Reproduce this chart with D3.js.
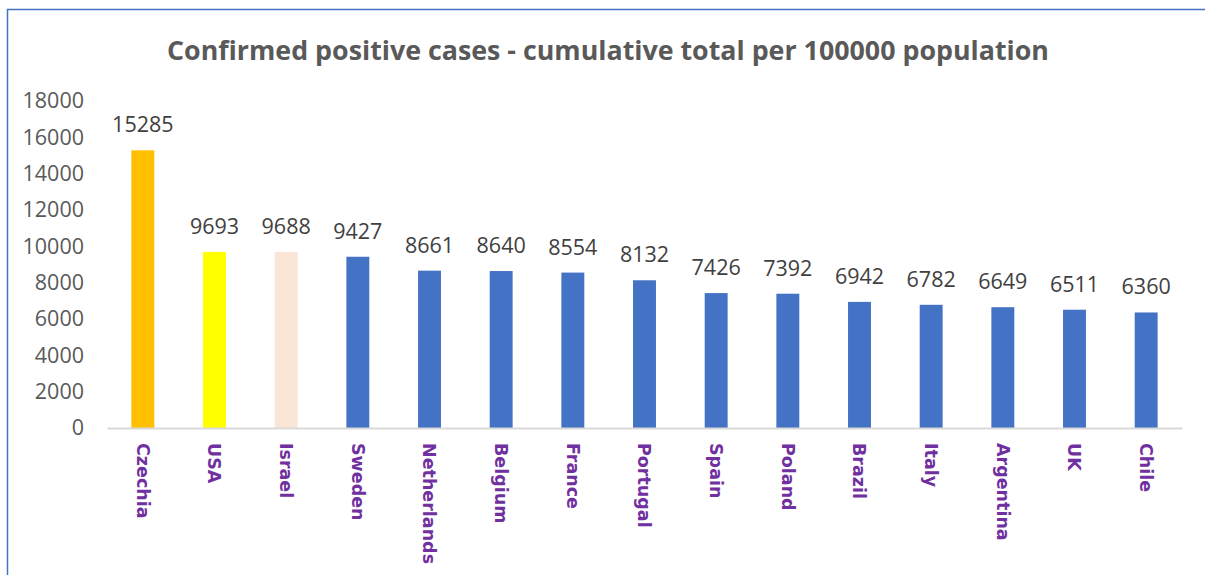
<!DOCTYPE html>
<html>
<head>
<meta charset="utf-8">
<script src="https://cdn.jsdelivr.net/npm/d3@7"></script>
<style>
  body { margin: 0; background: #fff; }
</style>
</head>
<body>
<div id="chart"></div>
<script>
// chart values
var countries = ["Czechia", "USA", "Israel", "Sweden", "Netherlands", "Belgium", "France", "Portugal", "Spain", "Poland", "Brazil", "Italy", "Argentina", "UK", "Chile"];
var cases = [15285, 9693, 9688, 9427, 8661, 8640, 8554, 8132, 7426, 7392, 6942, 6782, 6649, 6511, 6360];
var barColors = ["#FFC000", "#FFFF00", "#FBE5D6", "#4472C4", "#4472C4", "#4472C4", "#4472C4", "#4472C4", "#4472C4", "#4472C4", "#4472C4", "#4472C4", "#4472C4", "#4472C4", "#4472C4"];
var yTicks = [0, 2000, 4000, 6000, 8000, 10000, 12000, 14000, 16000, 18000];
var titleText = "Confirmed positive cases - cumulative total per 100000 population";

var svgWidth = 1205;
var svgHeight = 575;
var margin = {top: 101, right: 23, bottom: 147, left: 107};
var width = svgWidth - margin.left - margin.right;
var height = svgHeight - margin.top - margin.bottom;

var svg = d3.select("#chart")
            .append("svg")
            .attr("width", svgWidth)
            .attr("height", svgHeight);

// frame (only top and left edges show in the picture)
svg.append("path")
   .attr("d", "M7.5," + svgHeight + "V9.5H" + svgWidth)
   .attr("fill", "none")
   .attr("stroke", "#4472C4")
   .attr("stroke-width", 1.5);

svg.append("text")
   .attr("x", 608)
   .attr("y", 60)
   .attr("text-anchor", "middle")
   .style("font", "bold 26.8px 'Open Sans', sans-serif")
   .style("fill", "#595959")
   .text(titleText);

var chartGroup = svg.append("g")
                    .attr("transform", `translate(${margin.left}, ${margin.top})`);

var xScale = d3.scaleBand()
               .domain(countries)
               .range([0, width])
               .paddingInner(0.68)
               .paddingOuter(0.34);

var yScale = d3.scaleLinear()
               .domain([0, 18000])
               .range([height, 0]);

// y axis labels only, no line
var leftAxis = d3.axisLeft(yScale).tickValues(yTicks).tickFormat(d3.format("d")).tickSize(0).tickPadding(23);
var yAxis = chartGroup.append("g").call(leftAxis);
yAxis.select(".domain").remove();
yAxis.selectAll("text")
     .style("font", "21.5px 'Open Sans', sans-serif")
     .style("fill", "#595959");

// bars
chartGroup.selectAll("rect.bar")
          .data(cases)
          .enter()
          .append("rect")
          .attr("class", "bar")
          .attr("x", function(d, i) { return xScale(countries[i]); })
          .attr("y", function(d) { return yScale(d); })
          .attr("width", xScale.bandwidth())
          .attr("height", function(d) { return height - yScale(d); })
          .attr("fill", function(d, i) { return barColors[i]; });

// value labels
chartGroup.selectAll("text.val")
          .data(cases)
          .enter()
          .append("text")
          .attr("class", "val")
          .attr("x", function(d, i) { return xScale(countries[i]) + xScale.bandwidth() / 2; })
          .attr("y", function(d) { return yScale(d) - 18; })
          .attr("text-anchor", "middle")
          .style("font", "21.5px 'Open Sans', sans-serif")
          .style("fill", "#404040")
          .text(function(d) { return d; });

// x axis
var bottomAxis = d3.axisBottom(xScale).tickSize(0).tickPadding(15);
var xAxis = chartGroup.append("g")
                      .attr("transform", `translate(0, ${height})`)
                      .call(bottomAxis);
xAxis.select(".domain")
     .attr("stroke", "#D9D9D9")
     .attr("stroke-width", 2);
xAxis.selectAll("text")
     .attr("transform", "rotate(90)")
     .attr("x", 15)
     .attr("y", 0)
     .attr("dy", "0.35em")
     .attr("text-anchor", "start")
     .style("font", "bold 17.5px 'DejaVu Sans', sans-serif")
     .style("fill", "#7030A0");
</script>
</body>
</html>
